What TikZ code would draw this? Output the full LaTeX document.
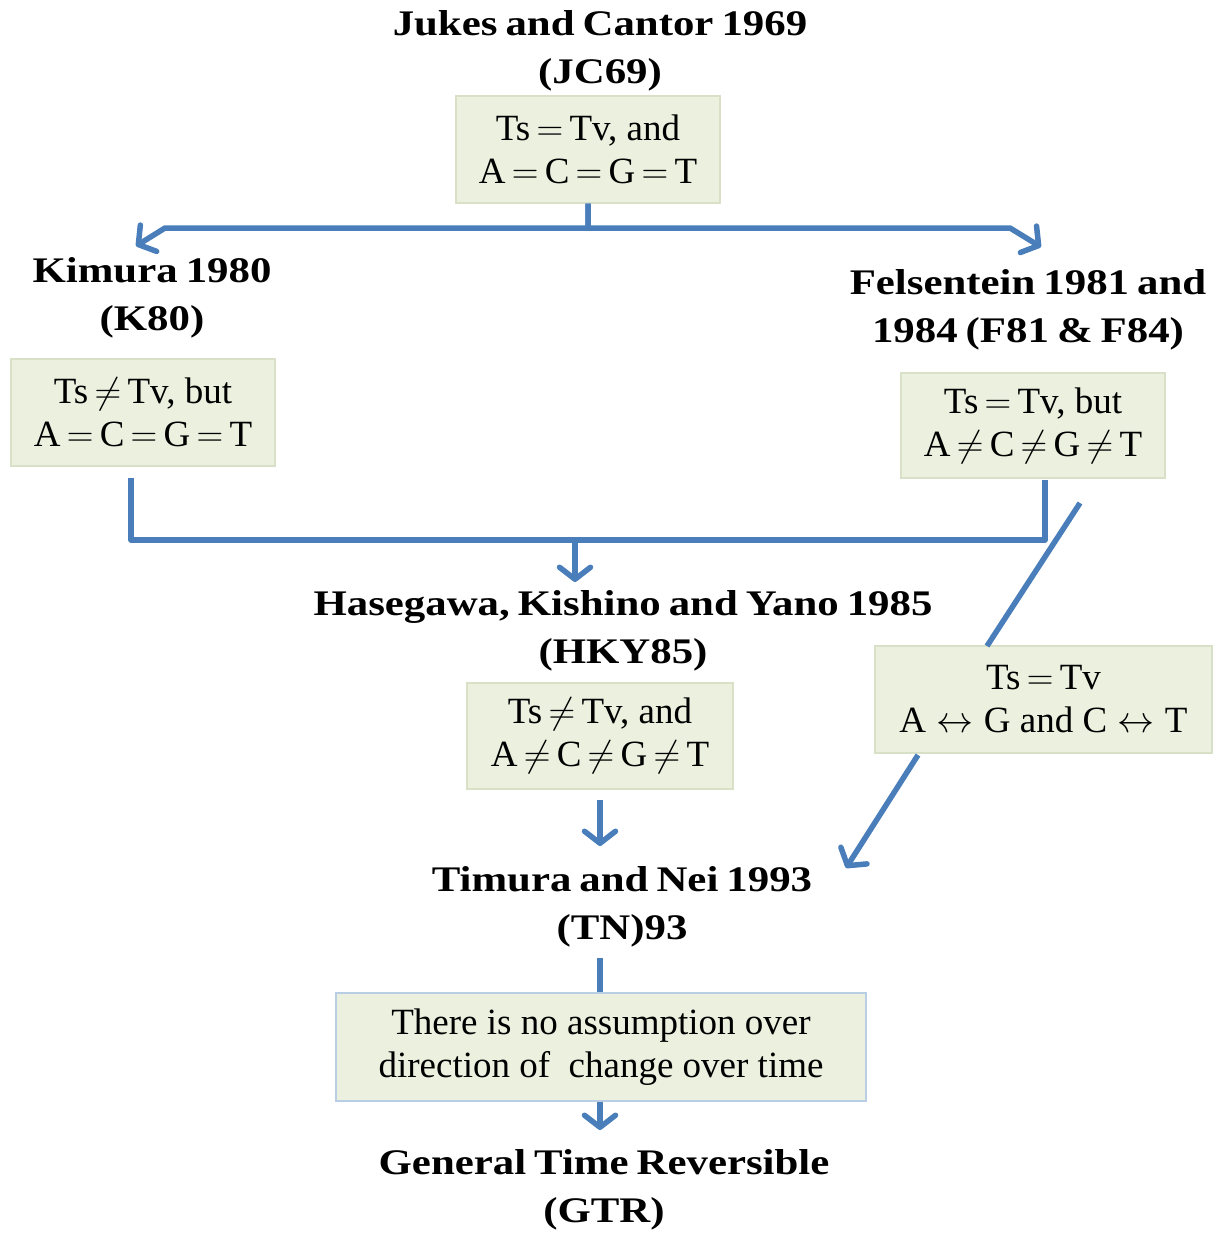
\RequirePackage{fix-cm}
\documentclass[tikz,border=0pt]{standalone}
\usepackage{fontspec}
\setmainfont{Liberation Serif}
\newfontfamily\headfont{Liberation Serif}[FakeStretch=1.19,WordSpace=0.75]
\usetikzlibrary{arrows.meta}
\definecolor{linkblue}{HTML}{4A7EBB}
\definecolor{boxfill}{HTML}{EBF0DF}
\definecolor{boxedge}{HTML}{D9E0C8}
\definecolor{boxedgeblue}{HTML}{B9CDE5}
% relation signs with tight spacing, as set in the boxes
\newcommand{\releq}{\hspace{0.17em}$=$\hspace{0.17em}}
\newcommand{\relne}{\hspace{0.17em}$\neq$\hspace{0.17em}}
\newcommand{\relarr}{\hspace{0.28em}$\leftrightarrow$\hspace{0.28em}}
\begin{document}
\begin{tikzpicture}[x=1pt,y=-1pt,
  heading/.style={font=\headfont\bfseries\fontsize{36}{48}\selectfont,align=center,inner sep=0pt},
  model/.style={draw=boxedge,line width=1.2pt,fill=boxfill,align=center,inner sep=0pt,
     font=\fontsize{37}{43}\selectfont},
  link/.style={draw=linkblue,line width=5.5pt,line join=round},
  linkarrow/.style={link,-{Straight Barb[length=12pt,width=31pt,round]}}]
\useasboundingbox (0,0) rectangle (1222,1237);

% headings
\node[heading] (jct) at (600,51) {Jukes and Cantor 1969\\(JC69)};
\node[heading] (k80t) at (152,298) {Kimura 1980\\(K80)};
\node[heading] (f81t) at (1028,310) {Felsentein 1981 and\\1984 (F81 \& F84)};
\node[heading] (hkyt) at (623,631) {Hasegawa, Kishino and Yano 1985\\(HKY85)};
\node[heading] (tnt) at (622,907) {Timura and Nei 1993\\(TN)93};
\node[heading] (gtrt) at (604,1190) {General Time Reversible\\(GTR)};

% assumption boxes
\node[model,minimum width=264pt,minimum height=107pt] (jcb) at (588,149.5) {Ts\releq Tv, and\\A\releq C\releq G\releq T};
\node[model,minimum width=264pt,minimum height=107pt] (k80b) at (143,412.5) {Ts\relne Tv, but\\A\releq C\releq G\releq T};
\node[model,minimum width=264pt,minimum height=105pt] (f81b) at (1033,425.5) {Ts\releq Tv, but\\A\relne C\relne G\relne T};
\node[model,minimum width=266pt,minimum height=106pt] (hkyb) at (600,736) {Ts\relne Tv, and\\A\relne C\relne G\relne T};
\node[model,minimum width=337pt,minimum height=107pt] (tsb) at (1043.5,699.5) {Ts\releq Tv\\A\relarr G and C\relarr T};
\node[model,draw=boxedgeblue,minimum width=530pt,minimum height=108pt] (tnb) at (601,1047) {There is no assumption over\\direction of \ change over time};

% connector end points
\coordinate (jcL) at (165,228);
\coordinate (jcLtip) at (136,246);
\coordinate (jcR) at (1010,228);
\coordinate (jcRtip) at (1041,247);
\coordinate (k80s) at (131,478);
\coordinate (k80c) at (131,540);
\coordinate (f81s) at (1045,480);
\coordinate (f81c) at (1045,540);
\coordinate (mid) at (575,540);
\coordinate (midtip) at (575,582);
\coordinate (hkys) at (600,800);
\coordinate (hkytip) at (600,846);
\coordinate (fdiag) at (1080,503);
\coordinate (tsin) at (987,646);
\coordinate (tsout) at (918,755);
\coordinate (tstip) at (846,868);
\coordinate (tntop) at (600,958);
\coordinate (gtrtip) at (600,1130);

% connectors
\draw[linkarrow] (jcb.south) |- (jcL) -- (jcLtip);
\draw[linkarrow] (jcb.south) |- (jcR) -- (jcRtip);
\draw[link] (k80s) -- (k80c) -- (f81c) -- (f81s);
\draw[linkarrow] (mid) -- (midtip);
\draw[linkarrow] (hkys) -- (hkytip);
\draw[link] (fdiag) -- (tsin);
\draw[linkarrow] (tsout) -- (tstip);
\draw[link] (tntop) -- (tntop |- tnb.north);
\draw[linkarrow] (tnb.south -| gtrtip) -- (gtrtip);
\end{tikzpicture}
\end{document}
